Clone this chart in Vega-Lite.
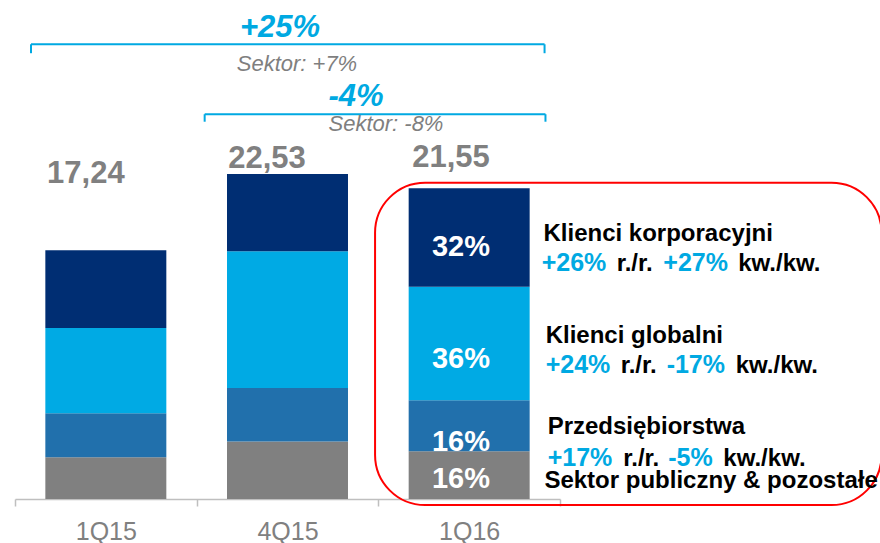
{
  "$schema": "https://vega.github.io/schema/vega-lite/v6.json",
  "autosize": {"type": "none"},
  "padding": {"left": 15, "top": 0, "right": 0, "bottom": 44},
  "width": 865,
  "height": 499,
  "config": {"view": {"stroke": null}, "font": "Liberation Sans", "text": {"font": "Liberation Sans"}},
  "layer": [
    {
      "data": {"values": [
        {"quarter": "1Q15", "segment": "Sektor publiczny & pozostałe", "value": 2.90},
        {"quarter": "1Q15", "segment": "Przedsiębiorstwa", "value": 3.04},
        {"quarter": "1Q15", "segment": "Klienci globalni", "value": 5.91},
        {"quarter": "1Q15", "segment": "Klienci korporacyjni", "value": 5.39},
        {"quarter": "4Q15", "segment": "Sektor publiczny & pozostałe", "value": 3.98},
        {"quarter": "4Q15", "segment": "Przedsiębiorstwa", "value": 3.72},
        {"quarter": "4Q15", "segment": "Klienci globalni", "value": 9.47},
        {"quarter": "4Q15", "segment": "Klienci korporacyjni", "value": 5.36},
        {"quarter": "1Q16", "segment": "Sektor publiczny & pozostałe", "value": 3.31},
        {"quarter": "1Q16", "segment": "Przedsiębiorstwa", "value": 3.54},
        {"quarter": "1Q16", "segment": "Klienci globalni", "value": 7.87},
        {"quarter": "1Q16", "segment": "Klienci korporacyjni", "value": 6.83}
      ]},
      "transform": [
        {"calculate": "indexof(['Sektor publiczny & pozostałe', 'Przedsiębiorstwa', 'Klienci globalni', 'Klienci korporacyjni'], datum.segment)", "as": "stackOrder"}
      ],
      "mark": {"type": "bar", "width": {"band": 0.666}},
      "encoding": {
        "x": {
          "field": "quarter", "type": "nominal",
          "scale": {"domain": ["1Q15", "4Q15", "1Q16"], "range": [0, 545], "paddingInner": 0, "paddingOuter": 0},
          "axis": {
            "title": null, "labelAngle": 0, "labelFontSize": 25, "labelColor": "#808080",
            "labelPadding": 13, "tickSize": 7, "tickColor": "#bfbfbf", "tickWidth": 1.5,
            "domainColor": "#bfbfbf", "domainWidth": 1.5, "tickBand": "extent", "labelFont": "Liberation Sans"
          }
        },
        "y": {
          "aggregate": "sum", "field": "value", "type": "quantitative", "stack": "zero",
          "scale": {"domain": [0, 34.6], "nice": false, "zero": true},
          "axis": null
        },
        "order": {"field": "stackOrder", "type": "quantitative", "sort": "ascending"},
        "color": {
          "field": "segment", "type": "nominal",
          "scale": {
            "domain": ["Sektor publiczny & pozostałe", "Przedsiębiorstwa", "Klienci globalni", "Klienci korporacyjni"],
            "range": ["#808080", "#2170ac", "#00aae4", "#002e73"]
          },
          "legend": null
        }
      }
    },
    {
      "data": {"values": [{"quarter": "1Q15", "total": "17,24"}]},
      "mark": {"type": "text", "fontSize": 31, "fontWeight": "bold", "color": "#808080", "align": "center", "baseline": "alphabetic"},
      "encoding": {"x": {"field": "quarter", "type": "nominal", "bandPosition": 0.39}, "y": {"datum": 21.89, "type": "quantitative"}, "text": {"field": "total"}}
    },
    {
      "data": {"values": [{"quarter": "4Q15", "total": "22,53"}]},
      "mark": {"type": "text", "fontSize": 31, "fontWeight": "bold", "color": "#808080", "align": "center", "baseline": "alphabetic"},
      "encoding": {"x": {"field": "quarter", "type": "nominal", "bandPosition": 0.387}, "y": {"datum": 22.93, "type": "quantitative"}, "text": {"field": "total"}}
    },
    {
      "data": {"values": [{"quarter": "1Q16", "total": "21,55"}]},
      "mark": {"type": "text", "fontSize": 31, "fontWeight": "bold", "color": "#808080", "align": "center", "baseline": "alphabetic"},
      "encoding": {"x": {"field": "quarter", "type": "nominal", "bandPosition": 0.40}, "y": {"datum": 23.04, "type": "quantitative"}, "text": {"field": "total"}}
    },
    {
      "data": {"values": [{}]},
      "mark": {"type": "rule", "color": "#00a9e2", "strokeWidth": 2},
      "encoding": {"x": {"datum": "1Q15", "bandPosition": 0.088}, "x2": {"datum": "1Q16", "bandPosition": 0.915}, "y": {"datum": 31.53, "type": "quantitative"}}
    },
    {
      "data": {"values": [{}]},
      "mark": {"type": "rule", "color": "#00a9e2", "strokeWidth": 2},
      "encoding": {"x": {"datum": "1Q15", "bandPosition": 0.088}, "y": {"datum": 31.53, "type": "quantitative"}, "y2": {"datum": 30.91}}
    },
    {
      "data": {"values": [{}]},
      "mark": {"type": "rule", "color": "#00a9e2", "strokeWidth": 2},
      "encoding": {"x": {"datum": "1Q16", "bandPosition": 0.915}, "y": {"datum": 31.53, "type": "quantitative"}, "y2": {"datum": 30.91}}
    },
    {
      "data": {"values": [{}]},
      "mark": {"type": "rule", "color": "#00a9e2", "strokeWidth": 2},
      "encoding": {"x": {"datum": "4Q15", "bandPosition": 0.044}, "x2": {"datum": "1Q16", "bandPosition": 0.92}, "y": {"datum": 26.68, "type": "quantitative"}}
    },
    {
      "data": {"values": [{}]},
      "mark": {"type": "rule", "color": "#00a9e2", "strokeWidth": 2},
      "encoding": {"x": {"datum": "4Q15", "bandPosition": 0.044}, "y": {"datum": 26.68, "type": "quantitative"}, "y2": {"datum": 26.16}}
    },
    {
      "data": {"values": [{}]},
      "mark": {"type": "rule", "color": "#00a9e2", "strokeWidth": 2},
      "encoding": {"x": {"datum": "1Q16", "bandPosition": 0.92}, "y": {"datum": 26.68, "type": "quantitative"}, "y2": {"datum": 26.16}}
    },
    {
      "data": {"values": [{"label": "+25%"}]},
      "mark": {"type": "text", "fontSize": 31, "fontWeight": "bold", "fontStyle": "italic", "color": "#00a9e2", "align": "center", "baseline": "alphabetic"},
      "encoding": {"x": {"datum": "4Q15", "bandPosition": 0.459}, "y": {"datum": 32.06, "type": "quantitative"}, "text": {"field": "label"}}
    },
    {
      "data": {"values": [{"label": "Sektor: +7%"}]},
      "mark": {"type": "text", "fontSize": 22, "fontStyle": "italic", "color": "#7f7f7f", "align": "center", "baseline": "alphabetic"},
      "encoding": {"x": {"datum": "4Q15", "bandPosition": 0.552}, "y": {"datum": 29.68, "type": "quantitative"}, "text": {"field": "label"}}
    },
    {
      "data": {"values": [{"label": "-4%"}]},
      "mark": {"type": "text", "fontSize": 31, "fontWeight": "bold", "fontStyle": "italic", "color": "#00a9e2", "align": "center", "baseline": "alphabetic"},
      "encoding": {"x": {"datum": "4Q15", "bandPosition": 0.877}, "y": {"datum": 27.25, "type": "quantitative"}, "text": {"field": "label"}}
    },
    {
      "data": {"values": [{"label": "Sektor: -8%"}]},
      "mark": {"type": "text", "fontSize": 22, "fontStyle": "italic", "color": "#7f7f7f", "align": "center", "baseline": "alphabetic"},
      "encoding": {"x": {"datum": "1Q16", "bandPosition": 0.042}, "y": {"datum": 25.49, "type": "quantitative"}, "text": {"field": "label"}}
    },
    {
      "data": {"values": [{"label": "32%"}]},
      "mark": {"type": "text", "fontSize": 29, "fontWeight": "bold", "color": "#ffffff", "align": "center", "baseline": "alphabetic"},
      "encoding": {"x": {"datum": "1Q16", "bandPosition": 0.455}, "y": {"datum": 16.85, "type": "quantitative"}, "text": {"field": "label"}}
    },
    {
      "data": {"values": [{"label": "36%"}]},
      "mark": {"type": "text", "fontSize": 29, "fontWeight": "bold", "color": "#ffffff", "align": "center", "baseline": "alphabetic"},
      "encoding": {"x": {"datum": "1Q16", "bandPosition": 0.455}, "y": {"datum": 9.06, "type": "quantitative"}, "text": {"field": "label"}}
    },
    {
      "data": {"values": [{"label": "16%"}]},
      "mark": {"type": "text", "fontSize": 29, "fontWeight": "bold", "color": "#ffffff", "align": "center", "baseline": "alphabetic"},
      "encoding": {"x": {"datum": "1Q16", "bandPosition": 0.455}, "y": {"datum": 3.33, "type": "quantitative"}, "text": {"field": "label"}}
    },
    {
      "data": {"values": [{"label": "16%"}]},
      "mark": {"type": "text", "fontSize": 29, "fontWeight": "bold", "color": "#ffffff", "align": "center", "baseline": "alphabetic"},
      "encoding": {"x": {"datum": "1Q16", "bandPosition": 0.455}, "y": {"datum": 0.73, "type": "quantitative"}, "text": {"field": "label"}}
    },
    {
      "data": {"values": [{}]},
      "mark": {"type": "rect", "fill": null, "fillOpacity": 0, "stroke": "#ff0000", "strokeWidth": 2, "cornerRadius": 50},
      "encoding": {"x": {"datum": "1Q16", "bandPosition": -0.018}, "x2": {"datum": "1Q16", "bandPosition": 2.77}, "y": {"datum": 21.93, "type": "quantitative"}, "y2": {"datum": -0.42}}
    },
    {
      "data": {"values": [{"label": "Klienci korporacyjni"}]},
      "mark": {"type": "text", "fontSize": 24, "fontWeight": "bold", "color": "#000000", "align": "left", "baseline": "alphabetic"},
      "encoding": {"x": {"datum": "1Q16", "bandPosition": 0.909}, "y": {"datum": 17.91, "type": "quantitative"}, "text": {"field": "label"}}
    },
    {
      "data": {"values": [{"label": "+26%"}]},
      "mark": {"type": "text", "fontSize": 25, "fontWeight": "bold", "color": "#00a9e2", "align": "left", "baseline": "alphabetic"},
      "encoding": {"x": {"datum": "1Q16", "bandPosition": 0.899}, "y": {"datum": 15.83, "type": "quantitative"}, "text": {"field": "label"}}
    },
    {
      "data": {"values": [{"label": "r./r."}]},
      "mark": {"type": "text", "fontSize": 24, "fontWeight": "bold", "color": "#000000", "align": "left", "baseline": "alphabetic"},
      "encoding": {"x": {"datum": "1Q16", "bandPosition": 1.312}, "y": {"datum": 15.83, "type": "quantitative"}, "text": {"field": "label"}}
    },
    {
      "data": {"values": [{"label": "+27%"}]},
      "mark": {"type": "text", "fontSize": 25, "fontWeight": "bold", "color": "#00a9e2", "align": "left", "baseline": "alphabetic"},
      "encoding": {"x": {"datum": "1Q16", "bandPosition": 1.569}, "y": {"datum": 15.83, "type": "quantitative"}, "text": {"field": "label"}}
    },
    {
      "data": {"values": [{"label": "kw./kw."}]},
      "mark": {"type": "text", "fontSize": 24, "fontWeight": "bold", "color": "#000000", "align": "left", "baseline": "alphabetic"},
      "encoding": {"x": {"datum": "1Q16", "bandPosition": 1.981}, "y": {"datum": 15.83, "type": "quantitative"}, "text": {"field": "label"}}
    },
    {
      "data": {"values": [{"label": "Klienci globalni"}]},
      "mark": {"type": "text", "fontSize": 24, "fontWeight": "bold", "color": "#000000", "align": "left", "baseline": "alphabetic"},
      "encoding": {"x": {"datum": "1Q16", "bandPosition": 0.921}, "y": {"datum": 10.8, "type": "quantitative"}, "text": {"field": "label"}}
    },
    {
      "data": {"values": [{"label": "+24%"}]},
      "mark": {"type": "text", "fontSize": 25, "fontWeight": "bold", "color": "#00a9e2", "align": "left", "baseline": "alphabetic"},
      "encoding": {"x": {"datum": "1Q16", "bandPosition": 0.921}, "y": {"datum": 8.72, "type": "quantitative"}, "text": {"field": "label"}}
    },
    {
      "data": {"values": [{"label": "r./r."}]},
      "mark": {"type": "text", "fontSize": 24, "fontWeight": "bold", "color": "#000000", "align": "left", "baseline": "alphabetic"},
      "encoding": {"x": {"datum": "1Q16", "bandPosition": 1.334}, "y": {"datum": 8.72, "type": "quantitative"}, "text": {"field": "label"}}
    },
    {
      "data": {"values": [{"label": "-17%"}]},
      "mark": {"type": "text", "fontSize": 25, "fontWeight": "bold", "color": "#00a9e2", "align": "left", "baseline": "alphabetic"},
      "encoding": {"x": {"datum": "1Q16", "bandPosition": 1.587}, "y": {"datum": 8.72, "type": "quantitative"}, "text": {"field": "label"}}
    },
    {
      "data": {"values": [{"label": "kw./kw."}]},
      "mark": {"type": "text", "fontSize": 24, "fontWeight": "bold", "color": "#000000", "align": "left", "baseline": "alphabetic"},
      "encoding": {"x": {"datum": "1Q16", "bandPosition": 1.967}, "y": {"datum": 8.72, "type": "quantitative"}, "text": {"field": "label"}}
    },
    {
      "data": {"values": [{"label": "Przedsiębiorstwa"}]},
      "mark": {"type": "text", "fontSize": 24, "fontWeight": "bold", "color": "#000000", "align": "left", "baseline": "alphabetic"},
      "encoding": {"x": {"datum": "1Q16", "bandPosition": 0.932}, "y": {"datum": 4.51, "type": "quantitative"}, "text": {"field": "label"}}
    },
    {
      "data": {"values": [{"label": "+17%"}]},
      "mark": {"type": "text", "fontSize": 25, "fontWeight": "bold", "color": "#00a9e2", "align": "left", "baseline": "alphabetic"},
      "encoding": {"x": {"datum": "1Q16", "bandPosition": 0.932}, "y": {"datum": 2.31, "type": "quantitative"}, "text": {"field": "label"}}
    },
    {
      "data": {"values": [{"label": "r./r."}]},
      "mark": {"type": "text", "fontSize": 24, "fontWeight": "bold", "color": "#000000", "align": "left", "baseline": "alphabetic"},
      "encoding": {"x": {"datum": "1Q16", "bandPosition": 1.348}, "y": {"datum": 2.31, "type": "quantitative"}, "text": {"field": "label"}}
    },
    {
      "data": {"values": [{"label": "-5%"}]},
      "mark": {"type": "text", "fontSize": 25, "fontWeight": "bold", "color": "#00a9e2", "align": "left", "baseline": "alphabetic"},
      "encoding": {"x": {"datum": "1Q16", "bandPosition": 1.596}, "y": {"datum": 2.31, "type": "quantitative"}, "text": {"field": "label"}}
    },
    {
      "data": {"values": [{"label": "kw./kw."}]},
      "mark": {"type": "text", "fontSize": 24, "fontWeight": "bold", "color": "#000000", "align": "left", "baseline": "alphabetic"},
      "encoding": {"x": {"datum": "1Q16", "bandPosition": 1.899}, "y": {"datum": 2.31, "type": "quantitative"}, "text": {"field": "label"}}
    },
    {
      "data": {"values": [{"label": "Sektor publiczny & pozostałe"}]},
      "mark": {"type": "text", "fontSize": 24, "fontWeight": "bold", "color": "#000000", "align": "left", "baseline": "alphabetic"},
      "encoding": {"x": {"datum": "1Q16", "bandPosition": 0.914}, "y": {"datum": 0.74, "type": "quantitative"}, "text": {"field": "label"}}
    }
  ]
}
